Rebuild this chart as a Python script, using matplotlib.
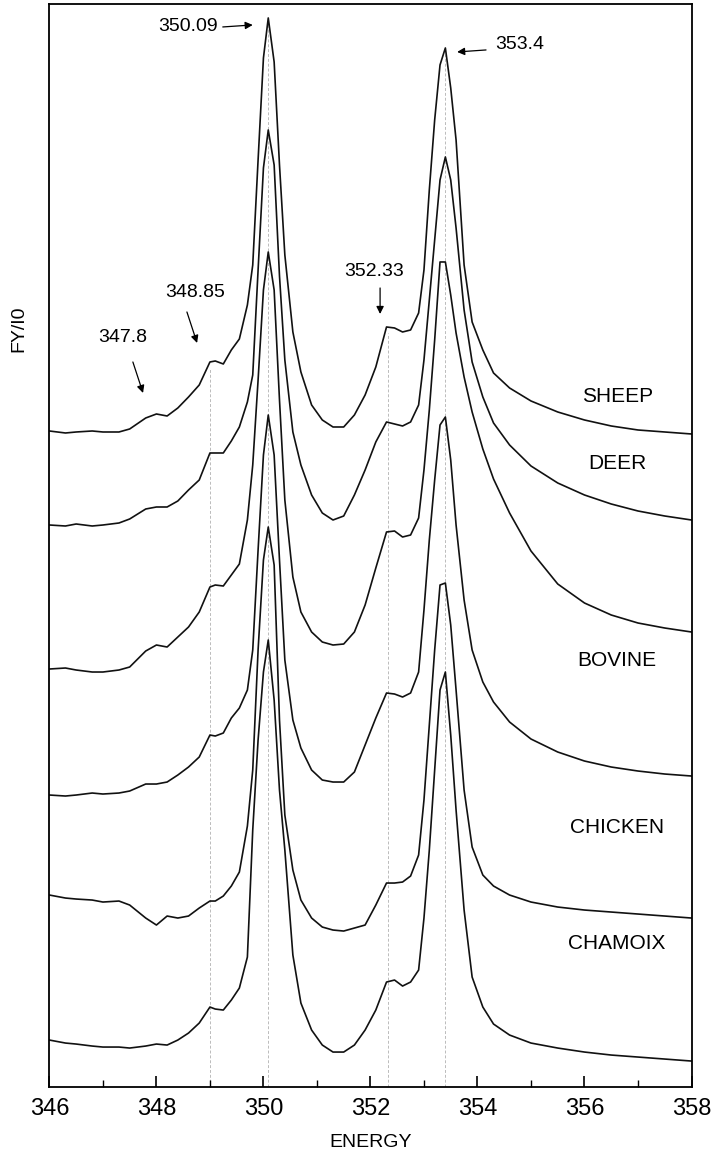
import numpy as np
import matplotlib.pyplot as plt
from matplotlib.ticker import MultipleLocator

plt.rcParams['font.family'] = ['Liberation Sans', 'DejaVu Sans']

# common energy grid (eV)
energy = [346.0, 346.3, 346.5, 346.8, 347.0, 347.3, 347.5, 347.8, 348.0, 348.2,
          348.4, 348.6, 348.8, 349.0, 349.1, 349.25, 349.4, 349.55, 349.7, 349.8,
          349.9, 350.0, 350.09, 350.2, 350.3, 350.4, 350.55, 350.7, 350.9, 351.1,
          351.3, 351.5, 351.7, 351.9, 352.1, 352.3, 352.45, 352.6, 352.75, 352.9,
          353.0, 353.1, 353.2, 353.3, 353.4, 353.5, 353.6, 353.75, 353.9, 354.1,
          354.3, 354.6, 355.0, 355.5, 356.0, 356.5, 357.0, 357.5, 358.0]

# stacked FY/I0 spectra (arbitrary units, offsets included), top to bottom
sheep = [656, 654, 655, 656, 655, 655, 658, 669, 673, 671,
         679, 690, 702, 725, 726, 723, 737, 748, 782, 822,
         927, 1029, 1069, 1025, 922, 832, 755, 715, 682, 667,
         660, 660, 672, 692, 720, 760, 759, 755, 757, 774,
         817, 897, 967, 1022, 1039, 999, 947, 822, 765, 737,
         714, 699, 686, 675, 667, 661, 657, 655, 653]
deer = [562, 561, 563, 561, 562, 564, 568, 578, 580, 580,
        586, 597, 607, 634, 634, 634, 646, 660, 685, 712,
        817, 919, 957, 922, 811, 727, 655, 622, 592, 574,
        567, 571, 592, 617, 645, 665, 663, 661, 665, 682,
        727, 787, 847, 907, 930, 907, 859, 777, 725, 690,
        664, 642, 621, 604, 592, 583, 576, 571, 567]
bovine = [418, 419, 417, 415, 415, 417, 420, 436, 442, 440,
          450, 460, 475, 500, 502, 501, 512, 523, 567, 622,
          707, 797, 835, 797, 687, 587, 510, 475, 455, 445,
          442, 443, 455, 482, 519, 555, 556, 550, 552, 569,
          617, 677, 747, 825, 825, 792, 754, 710, 675, 638,
          608, 574, 536, 503, 484, 472, 464, 459, 455]
curve4 = [292, 291, 292, 294, 293, 294, 296, 303, 303, 305,
          312, 320, 330, 352, 351, 354, 369, 379, 397, 437,
          537, 632, 672, 632, 527, 427, 367, 339, 317, 307,
          305, 305, 315, 342, 369, 394, 393, 390, 394, 415,
          477, 547, 607, 662, 670, 627, 562, 487, 437, 405,
          385, 365, 348, 335, 326, 320, 316, 313, 311]
chicken = [192, 189, 188, 187, 185, 186, 182, 169, 162, 171,
           169, 171, 179, 186, 186, 191, 201, 215, 261, 317,
           437, 527, 560, 522, 367, 272, 217, 187, 169, 160,
           157, 156, 159, 162, 182, 204, 204, 205, 211, 232,
           287, 362, 437, 502, 504, 462, 397, 297, 240, 212,
           201, 192, 185, 180, 177, 175, 173, 171, 169]
chamoix = [47, 44, 43, 41, 40, 40, 39, 41, 43, 42,
           47, 54, 64, 80, 78, 77, 87, 99, 130, 257,
           347, 415, 447, 387, 297, 237, 132, 84, 57, 42,
           35, 35, 42, 57, 77, 105, 107, 101, 105, 117,
           169, 237, 317, 397, 415, 352, 277, 177, 110, 80,
           63, 52, 44, 39, 35, 32, 30, 28, 26]

spectra = [sheep, deer, bovine, curve4, chicken, chamoix]

sample_names = ['SHEEP', 'DEER', 'BOVINE', 'CHICKEN', 'CHAMOIX']
name_y = [690, 623, 427, 260, 144]

peak_marks = [349.0, 350.09, 352.33, 353.4]

fig = plt.figure(figsize=(7.16, 11.62), dpi=100)
ax = fig.add_axes([0.069, 0.0645, 0.8968, 0.9321])

for s in spectra:
    ax.plot(energy, s, color='#111111', lw=1.2)

# guide lines from the axis up to the top spectrum
for e in peak_marks:
    top = np.interp(e, energy, sheep)
    ax.vlines(e, 0, top - 6, colors='#bbbbbb', linestyles=(0, (3, 2)), lw=0.7, zorder=0)

for name, y in zip(sample_names, name_y):
    ax.text(356.61, y, name, ha='center', va='center', fontsize=15)

arrow = dict(arrowstyle='-|>', color='k', lw=0.9, mutation_scale=11, shrinkA=0, shrinkB=0)

ax.text(348.59, 1060, '350.09', ha='center', va='center', fontsize=14)
ax.annotate('', xy=(349.80, 1062), xytext=(349.24, 1060), arrowprops=arrow)

ax.text(354.33, 1042, '353.4', ha='left', va='center', fontsize=14)
ax.annotate('', xy=(353.62, 1035), xytext=(354.16, 1037), arrowprops=arrow)

ax.text(352.07, 815, '352.33', ha='center', va='center', fontsize=14)
ax.annotate('', xy=(352.18, 773), xytext=(352.18, 799), arrowprops=arrow)

ax.text(348.72, 794, '348.85', ha='center', va='center', fontsize=14)
ax.annotate('', xy=(348.76, 744), xytext=(348.57, 775), arrowprops=arrow)

ax.text(347.37, 749, '347.8', ha='center', va='center', fontsize=14)
ax.annotate('', xy=(347.75, 694), xytext=(347.56, 725), arrowprops=arrow)

ax.set_xlim(346, 358)
ax.set_ylim(0, 1083)
ax.xaxis.set_major_locator(MultipleLocator(2))
ax.xaxis.set_minor_locator(MultipleLocator(1))
ax.tick_params(axis='x', which='major', direction='in', length=8, width=1.2, labelsize=17, pad=8)
ax.tick_params(axis='x', which='minor', direction='in', length=5, width=1.0)
ax.set_yticks([])
for sp in ax.spines.values():
    sp.set_linewidth(1.3)

ax.set_xlabel('ENERGY', fontsize=14, labelpad=10)
ax.set_ylabel('FY/I0', fontsize=14)
ax.yaxis.set_label_coords(-0.035, 0.70)

fig.savefig('out.png', dpi=100)
